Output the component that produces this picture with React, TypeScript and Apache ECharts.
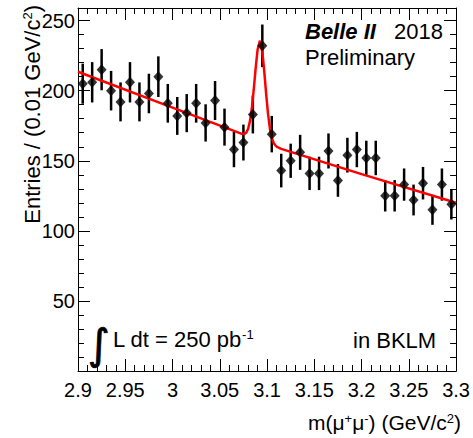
import React, { useEffect, useRef } from "react";
import * as echarts from "echarts";

// Bin centres of m(mu+mu-) in GeV/c^2 (bin width 0.01)
const binCenters = [
  2.905, 2.915, 2.925, 2.935, 2.945, 2.955, 2.965, 2.975, 2.985, 2.995,
  3.005, 3.015, 3.025, 3.035, 3.045, 3.055, 3.065, 3.075, 3.085, 3.095,
  3.105, 3.115, 3.125, 3.135, 3.145, 3.155, 3.165, 3.175, 3.185, 3.195,
  3.205, 3.215, 3.225, 3.235, 3.245, 3.255, 3.265, 3.275, 3.285, 3.295,
];
// Entries per bin
const counts = [
  205, 206, 215, 200, 192, 206, 192, 198, 210, 191,
  182, 184, 191, 177, 193, 174, 158, 163, 183, 232,
  169, 143, 150, 156, 141, 141, 157, 136, 154, 158,
  152, 152, 125, 125, 133, 122, 134, 115, 133, 119,
];
// Statistical errors per bin
const errors = [
  14.3, 14.4, 14.7, 14.1, 13.9, 14.4, 13.9, 14.1, 14.5, 13.8,
  13.5, 13.6, 13.8, 13.3, 13.9, 13.2, 12.6, 12.8, 13.5, 15.2,
  13.0, 12.0, 12.2, 12.5, 11.9, 11.9, 12.5, 11.7, 12.4, 12.6,
  12.3, 12.3, 11.2, 11.2, 11.5, 11.0, 11.6, 10.7, 11.5, 10.9,
];
// Fit curve
const fitMass = [
  2.9, 3.0, 3.072, 3.074, 3.076, 3.078, 3.08, 3.082, 3.084, 3.086, 3.088,
  3.09, 3.0925, 3.095, 3.097, 3.099, 3.101, 3.103, 3.105, 3.107, 3.109,
  3.111, 3.115, 3.2, 3.3,
];
const fitValue = [
  213.5, 187.9, 169.5, 169.2, 169.2, 170.1, 172.8, 178.5, 188.1, 201.5, 216.5,
  229.3, 235.7, 228.0, 214.2, 198.1, 183.7, 173.1, 166.4, 162.7, 160.8,
  159.7, 158.5, 140.5, 120.0,
];

const FONT = '"Liberation Sans", Arial, Helvetica, sans-serif';
const BLACK = "#000";

export default function App() {
  const ref = useRef<HTMLDivElement>(null);

  useEffect(() => {
    document.body.style.margin = "0";
    const chart = echarts.init(ref.current!, null, { renderer: "svg" });

    const line = { color: BLACK, width: 1 };
    const baseX: any = {
      type: "value",
      min: 2.9,
      max: 3.3,
      interval: 0.05,
      splitLine: { show: false },
      axisLine: { show: true, onZero: false, lineStyle: line },
      axisTick: { show: true, inside: true, length: 12, lineStyle: line },
      minorTick: { show: true, splitNumber: 5, length: 6, lineStyle: line },
      minorSplitLine: { show: false },
    };
    const baseY: any = {
      type: "value",
      min: 0,
      max: 259,
      splitLine: { show: false },
    };

    const sup = { fontSize: 13, fontFamily: FONT, verticalAlign: "top", fill: BLACK };

    const option: any = {
      animation: false,
      backgroundColor: "#fff",
      grid: { left: 78, right: 12, top: 8, bottom: 67, containLabel: false },
      xAxis: [
        {
          ...baseX,
          position: "bottom",
          axisLabel: {
            show: true,
            fontSize: 20,
            color: BLACK,
            fontFamily: FONT,
            margin: 9,
            formatter: (v: number) => String(parseFloat(v.toFixed(3))),
          },
        },
        { ...baseX, position: "top", axisLabel: { show: false } },
      ],
      yAxis: [
        {
          ...baseY,
          position: "left",
          interval: 50,
          axisLine: { show: true, onZero: false, lineStyle: line },
          axisTick: { show: true, inside: true, length: 12, lineStyle: line },
          axisLabel: {
            show: true,
            fontSize: 20,
            color: BLACK,
            fontFamily: FONT,
            margin: 3,
            formatter: (v: number) =>
              v > 0 && Math.abs(v % 50) < 1e-6 ? String(Math.round(v)) : "",
          },
        },
        {
          ...baseY,
          position: "left",
          interval: 10,
          axisLine: { show: false },
          axisTick: { show: true, inside: true, length: 6, lineStyle: line },
          axisLabel: { show: false },
        },
        {
          ...baseY,
          position: "right",
          interval: 50,
          axisLine: { show: true, onZero: false, lineStyle: line },
          axisTick: { show: true, inside: true, length: 12, lineStyle: line },
          axisLabel: { show: false },
        },
        {
          ...baseY,
          position: "right",
          interval: 10,
          axisLine: { show: false },
          axisTick: { show: true, inside: true, length: 6, lineStyle: line },
          axisLabel: { show: false },
        },
      ],
      series: [
        {
          type: "custom",
          name: "errors",
          xAxisIndex: 0,
          yAxisIndex: 0,
          encode: { x: 0, y: 1 },
          data: binCenters.map((x, i) => [x, counts[i], errors[i]]),
          renderItem: (params: any, api: any) => {
            const x = api.value(0);
            const y = api.value(1);
            const e = api.value(2);
            const p1 = api.coord([x, y - e]);
            const p2 = api.coord([x, y + e]);
            return {
              type: "line",
              shape: { x1: p1[0], y1: p1[1], x2: p2[0], y2: p2[1] },
              style: { stroke: BLACK, lineWidth: 2.5 },
            };
          },
          z: 2,
        },
        {
          type: "line",
          name: "fit",
          xAxisIndex: 0,
          yAxisIndex: 0,
          data: fitMass.map((x, i) => [x, fitValue[i]]),
          showSymbol: false,
          smooth: false,
          lineStyle: { color: "#f00", width: 2.5 },
          z: 3,
        },
        {
          type: "scatter",
          name: "data",
          xAxisIndex: 0,
          yAxisIndex: 0,
          data: binCenters.map((x, i) => [x, counts[i]]),
          symbol: "diamond",
          symbolSize: [10, 11],
          itemStyle: { color: BLACK },
          z: 4,
        },
      ],
      graphic: [
        {
          type: "text",
          x: 305,
          y: 31,
          style: {
            text: "Belle II",
            fontSize: 22,
            fontWeight: "bold",
            fontStyle: "italic",
            fontFamily: FONT,
            fill: BLACK,
            verticalAlign: "middle",
          },
        },
        {
          type: "text",
          x: 394,
          y: 31,
          style: { text: "2018", fontSize: 22, fontFamily: FONT, fill: BLACK, verticalAlign: "middle" },
        },
        {
          type: "text",
          x: 305,
          y: 57,
          style: { text: "Preliminary", fontSize: 22, fontFamily: FONT, fill: BLACK, verticalAlign: "middle" },
        },
        {
          type: "text",
          x: 88,
          y: 344,
          style: {
            text: "\u222B",
            fontSize: 42,
            fontFamily: '"DejaVu Sans", sans-serif',
            fill: BLACK,
            stroke: BLACK,
            lineWidth: 0.8,
            verticalAlign: "middle",
          },
        },
        {
          type: "text",
          x: 113,
          y: 339,
          style: {
            text: "L dt = 250 pb{sup|-1}",
            fontSize: 22,
            fontFamily: FONT,
            fill: BLACK,
            verticalAlign: "middle",
            rich: { sup },
          },
        },
        {
          type: "text",
          x: 353,
          y: 340,
          style: { text: "in BKLM", fontSize: 22, fontFamily: FONT, fill: BLACK, verticalAlign: "middle" },
        },
        {
          type: "text",
          x: 461,
          y: 422,
          style: {
            text: "m(\u03bc{sup|+}\u03bc{sup|-}) (GeV/c{sup|2})",
            fontSize: 21,
            fontFamily: FONT,
            fill: BLACK,
            align: "right",
            verticalAlign: "middle",
            rich: { sup },
          },
        },
        {
          type: "text",
          x: 32,
          y: 5,
          rotation: Math.PI / 2,
          style: {
            text: "Entries / (0.01 GeV/c{sup|2})",
            fontSize: 22,
            fontFamily: FONT,
            fill: BLACK,
            align: "right",
            verticalAlign: "middle",
            rich: { sup },
          },
        },
      ],
    };

    chart.setOption(option);
    return () => chart.dispose();
  }, []);

  return <div ref={ref} style={{ width: 473, height: 438 }} />;
}
